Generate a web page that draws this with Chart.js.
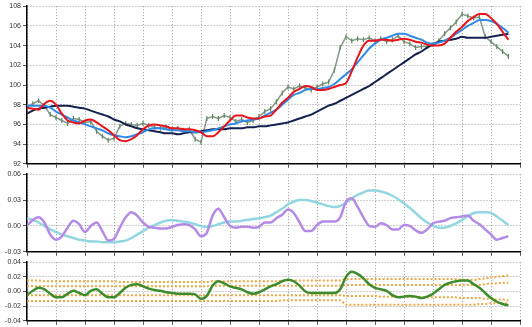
<!DOCTYPE html>
<html>
<head>
<meta charset="utf-8">
<script src="https://cdn.jsdelivr.net/npm/chart.js@4"></script>
<style>
  body { margin: 0; background: #fff; }
  #wrap { position: relative; width: 532px; height: 327px; }
  canvas { position: absolute; left: 0; }
</style>
</head>
<body>
<div id="wrap">
  <canvas id="pricePanel" width="532" height="170" style="top:0"></canvas>
  <canvas id="oscPanel" width="532" height="90" style="top:168px"></canvas>
  <canvas id="momPanel" width="532" height="71" style="top:256px"></canvas>
</div>
<script>
// price panel
const close = [97.8, 98.1, 98.4, 97.9, 97.0, 96.7, 96.4, 96.1, 96.6, 96.5,
  96.2, 96.3, 95.3, 94.8, 94.4, 94.6, 95.8, 96.1, 96.0, 95.9,
  96.1, 95.9, 95.7, 95.6, 95.7, 95.5, 95.6, 95.4, 95.5, 94.5,
  94.2, 96.6, 96.8, 96.6, 96.9, 96.7, 96.3, 96.5, 96.2, 96.4,
  96.8, 97.3, 97.6, 98.3, 99.2, 99.8, 99.6, 99.9, 99.7, 99.5,
  99.8, 100.1, 100.3, 101.5, 103.8, 104.9, 104.5, 104.7, 104.6, 104.8,
  104.5, 104.7, 104.4, 104.6, 105.0, 104.4, 104.2, 103.8, 103.9, 103.9,
  104.1, 104.5, 105.2, 105.8, 106.4, 107.2, 107.0, 106.8, 106.9, 104.9,
  104.4, 103.9, 103.4, 102.9];
const maShort = [97.7, 97.6, 97.5, 98.1, 98.4, 98.0, 97.1, 96.4, 96.2, 96.1,
  96.4, 96.5, 96.2, 95.8, 95.4, 94.9, 94.4, 94.3, 94.5, 94.9,
  95.5, 95.9, 96.0, 95.9, 95.8, 95.6, 95.6, 95.5, 95.5, 95.4,
  95.2, 94.8, 94.8, 95.2, 95.8, 96.4, 96.9, 96.9, 96.7, 96.6,
  96.6, 96.8, 96.9, 97.5, 98.2, 98.7, 99.3, 99.6, 99.9, 99.8,
  99.5, 99.5, 99.6, 99.8, 100.0, 100.2, 101.4, 102.8, 104.0, 104.5,
  104.5, 104.6, 104.6, 104.5, 104.6, 104.7, 104.6, 104.4, 104.3, 104.1,
  104.0, 104.0, 104.2, 104.8, 105.4, 105.9, 106.5, 106.9, 107.2, 107.2,
  106.8, 106.2, 105.4, 104.6];
const maMid = [97.9, 97.9, 97.9, 97.9, 97.7, 97.3, 97.0, 96.7, 96.4, 96.2,
  96.0, 95.8, 95.6, 95.4, 95.1, 94.9, 94.8, 94.7, 94.8, 95.0,
  95.2, 95.5, 95.6, 95.6, 95.5, 95.4, 95.4, 95.3, 95.3, 95.2,
  95.2, 95.3, 95.4, 95.6, 95.8, 96.0, 96.1, 96.3, 96.4, 96.5,
  96.6, 96.9, 97.2, 97.5, 98.0, 98.5, 99.0, 99.2, 99.5, 99.6,
  99.6, 99.7, 99.8, 100.1, 100.6, 101.1, 101.6, 102.3, 103.0, 103.7,
  104.2, 104.6, 104.8, 105.0, 105.2, 105.2, 105.0, 104.8, 104.6, 104.3,
  104.2, 104.3, 104.5, 104.8, 105.2, 105.6, 106.0, 106.3, 106.6, 106.6,
  106.5, 106.2, 105.8, 105.3];
const maLong = [97.1, 97.4, 97.6, 97.7, 97.8, 97.9, 97.9, 97.9, 97.8, 97.7,
  97.6, 97.4, 97.2, 97.0, 96.8, 96.5, 96.3, 96.0, 95.8, 95.6,
  95.5, 95.4, 95.3, 95.2, 95.1, 95.1, 95.0, 95.1, 95.2, 95.2,
  95.3, 95.4, 95.5, 95.5, 95.5, 95.6, 95.6, 95.6, 95.7, 95.7,
  95.8, 95.8, 95.9, 96.0, 96.1, 96.2, 96.4, 96.6, 96.8, 97.0,
  97.3, 97.6, 97.9, 98.1, 98.4, 98.7, 99.0, 99.3, 99.6, 99.9,
  100.3, 100.7, 101.1, 101.5, 101.9, 102.3, 102.7, 103.1, 103.4, 103.8,
  104.1, 104.4, 104.5, 104.6, 104.7, 104.9, 104.8, 104.8, 104.8, 104.8,
  104.9, 105.0, 105.1, 105.2];
const priceTicks = [92, 108, 2];

// oscillator panel
const oscFast = [0.000, 0.007, 0.010, 0.004, -0.010, -0.016, -0.012, -0.002, 0.006, 0.002,
  -0.007, 0.000, 0.004, -0.006, -0.017, -0.015, -0.002, 0.010, 0.016, 0.012,
  0.004, -0.001, -0.002, -0.003, -0.003, -0.001, 0.001, 0.002, 0.001, -0.004,
  -0.012, -0.008, 0.012, 0.020, 0.010, 0.000, -0.002, -0.001, -0.001, -0.002,
  -0.001, 0.004, 0.004, 0.009, 0.013, 0.019, 0.015, 0.004, -0.006, -0.006,
  0.001, 0.005, 0.005, 0.005, 0.010, 0.028, 0.032, 0.022, 0.010, 0.000,
  -0.001, 0.003, 0.001, -0.004, -0.004, 0.001, 0.000, -0.005, -0.008, -0.004,
  0.003, 0.005, 0.006, 0.009, 0.010, 0.011, 0.012, 0.006, 0.002, -0.004,
  -0.010, -0.016, -0.014, -0.012];
const oscSlow = [0.009, 0.007, 0.004, 0.000, -0.004, -0.007, -0.010, -0.012, -0.014, -0.016,
  -0.017, -0.018, -0.018, -0.019, -0.019, -0.019, -0.018, -0.017, -0.014, -0.010,
  -0.006, -0.002, 0.001, 0.004, 0.006, 0.007, 0.006, 0.005, 0.004, 0.002,
  0.000, -0.001, 0.000, 0.002, 0.004, 0.005, 0.005, 0.006, 0.007, 0.008,
  0.009, 0.010, 0.012, 0.016, 0.020, 0.025, 0.028, 0.030, 0.030, 0.029,
  0.027, 0.025, 0.023, 0.022, 0.023, 0.027, 0.032, 0.036, 0.039, 0.041,
  0.041, 0.040, 0.038, 0.035, 0.031, 0.026, 0.021, 0.015, 0.009, 0.004,
  0.000, -0.002, -0.002, 0.000, 0.003, 0.007, 0.011, 0.015, 0.016, 0.016,
  0.015, 0.011, 0.006, 0.001];
const oscTicks = [-0.03, 0.06, 0.03];

// momentum panel
const momentum = [-0.005, 0.001, 0.005, 0.003, -0.003, -0.008, -0.008, -0.003, 0.001, -0.002,
  -0.005, 0.001, 0.003, -0.003, -0.008, -0.008, -0.002, 0.005, 0.009, 0.010,
  0.007, 0.004, 0.002, 0.001, -0.001, -0.002, -0.003, -0.003, -0.003, -0.004,
  -0.010, -0.006, 0.008, 0.014, 0.011, 0.007, 0.005, 0.003, -0.001, -0.003,
  -0.001, 0.003, 0.007, 0.010, 0.014, 0.016, 0.014, 0.008, 0.000, -0.002,
  -0.002, -0.002, -0.002, -0.002, 0.003, 0.020, 0.027, 0.024, 0.018, 0.010,
  0.005, 0.003, 0.001, -0.005, -0.008, -0.007, -0.006, -0.007, -0.009, -0.007,
  -0.003, 0.003, 0.009, 0.012, 0.014, 0.015, 0.015, 0.010, 0.005, -0.002,
  -0.009, -0.014, -0.017, -0.019];
const bandUpperOuter = [0.015, 0.015, 0.015, 0.014, 0.014, 0.014, 0.014, 0.014, 0.014, 0.014,
  0.014, 0.014, 0.014, 0.014, 0.014, 0.014, 0.013, 0.013, 0.013, 0.013,
  0.013, 0.013, 0.013, 0.013, 0.013, 0.013, 0.013, 0.013, 0.013, 0.013,
  0.013, 0.013, 0.014, 0.014, 0.014, 0.014, 0.014, 0.014, 0.014, 0.014,
  0.014, 0.014, 0.014, 0.014, 0.015, 0.015, 0.015, 0.015, 0.015, 0.015,
  0.015, 0.015, 0.015, 0.015, 0.015, 0.017, 0.017, 0.017, 0.017, 0.017,
  0.017, 0.017, 0.017, 0.017, 0.017, 0.017, 0.017, 0.017, 0.017, 0.017,
  0.017, 0.017, 0.017, 0.017, 0.017, 0.016, 0.016, 0.016, 0.017, 0.018,
  0.019, 0.020, 0.021, 0.022];
const bandUpperInner = [0.007, 0.007, 0.007, 0.007, 0.007, 0.007, 0.007, 0.007, 0.007, 0.007,
  0.007, 0.007, 0.007, 0.007, 0.007, 0.007, 0.007, 0.007, 0.007, 0.007,
  0.007, 0.007, 0.007, 0.007, 0.007, 0.007, 0.007, 0.007, 0.007, 0.007,
  0.007, 0.007, 0.008, 0.008, 0.008, 0.008, 0.008, 0.008, 0.008, 0.008,
  0.008, 0.008, 0.008, 0.008, 0.008, 0.008, 0.008, 0.008, 0.008, 0.008,
  0.008, 0.008, 0.008, 0.008, 0.008, 0.009, 0.009, 0.009, 0.009, 0.009,
  0.009, 0.009, 0.009, 0.009, 0.009, 0.009, 0.009, 0.009, 0.009, 0.009,
  0.009, 0.009, 0.009, 0.009, 0.009, 0.009, 0.009, 0.009, 0.009, 0.010,
  0.011, 0.011, 0.012, 0.012];
const bandLowerInner = [-0.005, -0.005, -0.005, -0.005, -0.005, -0.005, -0.005, -0.005, -0.005, -0.005,
  -0.005, -0.005, -0.005, -0.005, -0.005, -0.005, -0.005, -0.005, -0.005, -0.005,
  -0.005, -0.005, -0.005, -0.005, -0.005, -0.005, -0.005, -0.005, -0.005, -0.005,
  -0.005, -0.005, -0.005, -0.005, -0.005, -0.005, -0.005, -0.005, -0.005, -0.005,
  -0.005, -0.005, -0.005, -0.005, -0.005, -0.005, -0.005, -0.005, -0.005, -0.005,
  -0.005, -0.005, -0.005, -0.005, -0.005, -0.006, -0.006, -0.006, -0.006, -0.006,
  -0.006, -0.007, -0.007, -0.007, -0.007, -0.007, -0.007, -0.007, -0.008, -0.008,
  -0.008, -0.008, -0.008, -0.008, -0.008, -0.009, -0.009, -0.009, -0.009, -0.010,
  -0.010, -0.011, -0.011, -0.012];
const bandLowerOuter = [-0.013, -0.013, -0.013, -0.013, -0.013, -0.013, -0.013, -0.013, -0.013, -0.013,
  -0.013, -0.013, -0.013, -0.013, -0.013, -0.013, -0.013, -0.013, -0.013, -0.013,
  -0.013, -0.013, -0.013, -0.013, -0.013, -0.013, -0.013, -0.013, -0.013, -0.013,
  -0.013, -0.013, -0.013, -0.013, -0.013, -0.013, -0.013, -0.013, -0.013, -0.013,
  -0.013, -0.013, -0.013, -0.013, -0.012, -0.012, -0.012, -0.012, -0.012, -0.012,
  -0.012, -0.012, -0.012, -0.012, -0.012, -0.018, -0.018, -0.018, -0.018, -0.018,
  -0.018, -0.018, -0.018, -0.018, -0.018, -0.018, -0.018, -0.018, -0.018, -0.018,
  -0.018, -0.018, -0.018, -0.018, -0.018, -0.018, -0.018, -0.018, -0.017, -0.017,
  -0.016, -0.016, -0.016, -0.016];
const momTicks = [-0.04, 0.04, 0.02];

// x axis: one point per session, grid every 5 sessions, 85 sessions wide
const X_MAX = 85;
const X_STEP = 5;

function pts(arr) {
  return arr.map((v, i) => ({ x: i, y: v }));
}

function line(data, color, width, extra) {
  return Object.assign({
    data: pts(data),
    borderColor: color,
    borderWidth: width,
    pointRadius: 0,
    tension: 0.4,
    cubicInterpolationMode: 'monotone',
    fill: false
  }, extra || {});
}

const gridStyle = { color: '#9a9a9a', lineWidth: 1, tickLength: 4, tickColor: '#555', tickBorderDash: [] };

function makePanel(id, ticks, decimals, datasets) {
  const [yMin, yMax, yStep] = ticks;
  return new Chart(document.getElementById(id), {
    type: 'line',
    data: { datasets: datasets },
    options: {
      responsive: false,
      animation: false,
      layout: { padding: { left: 0, right: 12, top: 0, bottom: 0 } },
      plugins: { legend: { display: false }, tooltip: { enabled: false } },
      scales: {
        x: {
          type: 'linear', min: 0, max: X_MAX,
          ticks: { display: false, stepSize: X_STEP },
          grid: gridStyle,
          border: { display: true, color: '#000', width: 1.5, dash: [1, 2] }
        },
        y: {
          min: yMin, max: yMax,
          ticks: {
            stepSize: yStep, color: '#333', padding: 2,
            font: { family: 'Liberation Sans', size: 7 },
            callback: v => v.toFixed(decimals)
          },
          afterFit: s => { s.width = 27; },
          grid: gridStyle,
          border: { display: true, color: '#000', width: 1.5, dash: [1, 2] }
        }
      }
    }
  });
}

makePanel('pricePanel', priceTicks, 0, [
  line(maShort, '#e8141c', 2, { order: 1 }),
  line(maMid, '#2f8be6', 2, { order: 2 }),
  line(maLong, '#14204f', 2, { order: 3 }),
  line(close, '#86968a', 1.5, {
    order: 4, tension: 0, cubicInterpolationMode: 'default',
    pointStyle: 'line', pointRotation: 90, pointRadius: 2.5,
    pointBorderColor: '#5e8a5a', pointBorderWidth: 1.2
  })
]);

makePanel('oscPanel', oscTicks, 2, [
  line(oscFast, '#b48ae6', 2.5, { order: 1 }),
  line(oscSlow, '#92d6e2', 2.5, { order: 2 })
]);

makePanel('momPanel', momTicks, 2, [
  line(momentum, '#3c8c2c', 2.5, { order: 1 }),
  line(bandUpperOuter, '#f2a640', 2, { order: 2, borderDash: [2, 2] }),
  line(bandUpperInner, '#f2a640', 2, { order: 2, borderDash: [2, 2] }),
  line(bandLowerInner, '#f2a640', 2, { order: 2, borderDash: [2, 2] }),
  line(bandLowerOuter, '#f2a640', 2, { order: 2, borderDash: [2, 2] })
]);
</script>
</body>
</html>
